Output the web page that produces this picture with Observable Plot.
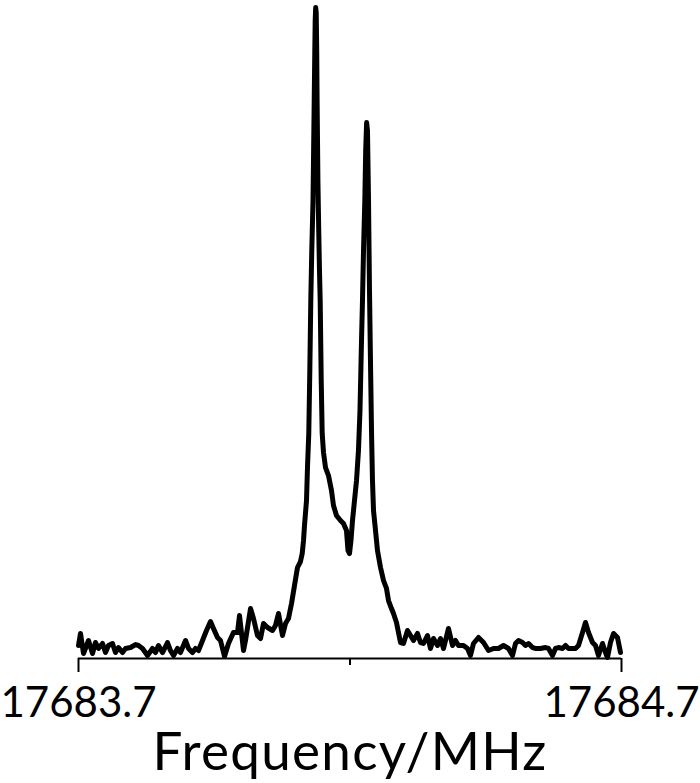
<!DOCTYPE html>
<html>
<head>
<meta charset="utf-8">
<script src="https://cdn.jsdelivr.net/npm/d3@7"></script>
<script src="https://cdn.jsdelivr.net/npm/@observablehq/plot@0.6"></script>
<style>
  html, body { margin: 0; padding: 0; background: #fff; }
  #chart { width: 700px; height: 783px; }
</style>
</head>
<body>
<div id="chart"></div>
<script>
// Frequency (MHz)
const frequency = [
  17683.7000, 17683.7037, 17683.7092, 17683.7184, 17683.7258, 17683.7313, 17683.7368, 17683.7442,
  17683.7497, 17683.7552, 17683.7626, 17683.7681, 17683.7737, 17683.7810, 17683.7866, 17683.7958,
  17683.8050, 17683.8105, 17683.8179, 17683.8271, 17683.8363, 17683.8418, 17683.8473, 17683.8547,
  17683.8639, 17683.8694, 17683.8750, 17683.8823, 17683.8878, 17683.8971, 17683.9026, 17683.9099,
  17683.9155, 17683.9210, 17683.9284, 17683.9357, 17683.9431, 17683.9486, 17683.9560, 17683.9615,
  17683.9689, 17683.9762, 17683.9854, 17683.9928, 17683.9965, 17684.0039, 17684.0075, 17684.0168,
  17684.0223, 17684.0296, 17684.0352, 17684.0407, 17684.0481, 17684.0573, 17684.0628, 17684.0683,
  17684.0757, 17684.0812, 17684.0867, 17684.0923, 17684.0978, 17684.1033, 17684.1088, 17684.1120,
  17684.1144, 17684.1162, 17684.1199, 17684.1217, 17684.1241, 17684.1260, 17684.1278, 17684.1296,
  17684.1319, 17684.1330, 17684.1341, 17684.1352, 17684.1359, 17684.1368, 17684.1378, 17684.1387,
  17684.1394, 17684.1409, 17684.1424, 17684.1438, 17684.1451, 17684.1470, 17684.1488, 17684.1512,
  17684.1549, 17684.1604, 17684.1659, 17684.1696, 17684.1751, 17684.1825, 17684.1880, 17684.1935,
  17684.1963, 17684.1991, 17684.2018, 17684.2046, 17684.2083, 17684.2120, 17684.2156, 17684.2184,
  17684.2212, 17684.2230, 17684.2249, 17684.2273, 17684.2289, 17684.2306, 17684.2322, 17684.2341,
  17684.2359, 17684.2377, 17684.2396, 17684.2414, 17684.2433, 17684.2470, 17684.2506, 17684.2562,
  17684.2617, 17684.2672, 17684.2709, 17684.2764, 17684.2801, 17684.2856, 17684.2930, 17684.2985,
  17684.3059, 17684.3114, 17684.3169, 17684.3243, 17684.3298, 17684.3354, 17684.3427, 17684.3482,
  17684.3538, 17684.3611, 17684.3667, 17684.3722, 17684.3814, 17684.3888, 17684.3943, 17684.3998,
  17684.4090, 17684.4164, 17684.4219, 17684.4274, 17684.4366, 17684.4459, 17684.4551, 17684.4643,
  17684.4735, 17684.4827, 17684.4919, 17684.4993, 17684.5048, 17684.5103, 17684.5177, 17684.5232,
  17684.5287, 17684.5361, 17684.5416, 17684.5508, 17684.5600, 17684.5656, 17684.5729, 17684.5784,
  17684.5840, 17684.5913, 17684.5969, 17684.6024, 17684.6097, 17684.6153, 17684.6208, 17684.6282,
  17684.6337, 17684.6392, 17684.6466, 17684.6521, 17684.6576, 17684.6650, 17684.6705, 17684.6742,
  17684.6797, 17684.6853, 17684.6926, 17684.6982
];

// Intensity (arbitrary units, strongest peak = 100)
const intensity = [
  2.00, 3.85, 0.77, 2.77, 0.77, 2.46, 1.54, 2.31,
  0.92, 2.00, 2.31, 0.92, 1.69, 0.92, 1.54, 1.69,
  2.15, 2.00, 1.54, 0.46, 1.54, 0.92, 2.00, 0.92,
  2.46, 1.23, 0.46, 1.54, 0.92, 2.77, 1.54, 0.92,
  1.54, 1.23, 2.77, 4.31, 5.69, 4.62, 3.23, 2.77,
  0.31, 2.31, 4.00, 4.00, 6.62, 1.23, 2.77, 7.69,
  6.15, 3.54, 3.08, 5.38, 4.77, 4.31, 5.08, 6.92,
  3.54, 5.38, 6.15, 8.46, 11.23, 14.00, 14.92, 16.15,
  18.15, 20.46, 24.31, 29.38, 34.62, 44.31, 55.08, 62.77,
  70.46, 78.15, 85.85, 93.54, 98.15, 100.15, 99.38, 93.54,
  85.85, 73.54, 65.85, 59.69, 55.08, 42.77, 34.62, 31.69,
  29.38, 28.15, 25.85, 23.54, 22.00, 21.23, 20.77, 19.69,
  16.62, 16.15, 18.15, 21.23, 24.31, 27.38, 32.00, 38.15,
  48.92, 55.08, 62.77, 70.46, 78.15, 82.46, 81.23, 70.46,
  56.62, 45.85, 35.08, 27.38, 22.77, 19.69, 16.62, 14.00,
  12.00, 10.77, 8.92, 7.69, 6.92, 5.54, 2.46, 2.31,
  4.31, 3.54, 2.77, 3.85, 2.46, 2.31, 3.54, 1.54,
  3.08, 2.00, 3.08, 1.54, 4.62, 2.00, 2.77, 2.00,
  2.00, 1.54, 0.46, 2.31, 3.23, 2.46, 1.23, 1.54,
  1.54, 2.00, 1.54, 0.46, 2.31, 2.77, 2.46, 2.00,
  2.31, 1.69, 1.54, 1.54, 1.69, 1.54, 0.46, 1.54,
  1.69, 1.54, 2.00, 1.54, 1.54, 1.54, 2.00, 4.00,
  5.54, 4.00, 2.46, 2.00, 0.46, 2.31, 0.92, 0.15,
  2.46, 3.85, 3.23, 0.92
];

const axisEnds = [17683.7, 17684.7];
const axisMid = [17684.2];
const xLabel = "Frequency/MHz";

const data = frequency.map((f, i) => ({f, v: intensity[i]}));

const font = "Lato, 'Open Sans', sans-serif";

const chart = Plot.plot({
  width: 700,
  height: 783,
  marginLeft: 78,
  marginRight: 79,
  marginTop: 8,
  marginBottom: 125,
  style: {fontFamily: font, background: "#fff", color: "#000"},
  x: {domain: [17683.7, 17684.7]},
  y: {domain: [0, 100], axis: null},
  marks: [
    Plot.ruleY([0], {stroke: "#000", strokeWidth: 2}),
    Plot.axisX({
      ticks: axisEnds,
      tickSize: 14,
      tickPadding: 15,
      tickFormat: d => d.toFixed(1),
      fontSize: 42,
      strokeWidth: 2,
      stroke: "#000",
      fill: "#000",
      label: null
    }),
    Plot.axisX({
      ticks: axisMid,
      tickSize: 7,
      tickFormat: () => "",
      strokeWidth: 2,
      stroke: "#000",
      label: null
    }),
    Plot.line(data, {
      x: "f", y: "v",
      stroke: "#000",
      strokeWidth: 5,
      strokeLinejoin: "round",
      strokeLinecap: "round"
    }),
    Plot.text([xLabel], {
      frameAnchor: "bottom",
      lineAnchor: "bottom",
      dy: 111,
      fontSize: 53,
      fill: "#000",
      fontFamily: font
    })
  ]
});

chart.querySelectorAll("text").forEach(t => {
  if (t.textContent === xLabel) t.setAttribute("letter-spacing", "1.3");
});

document.getElementById("chart").appendChild(chart);
</script>
</body>
</html>
